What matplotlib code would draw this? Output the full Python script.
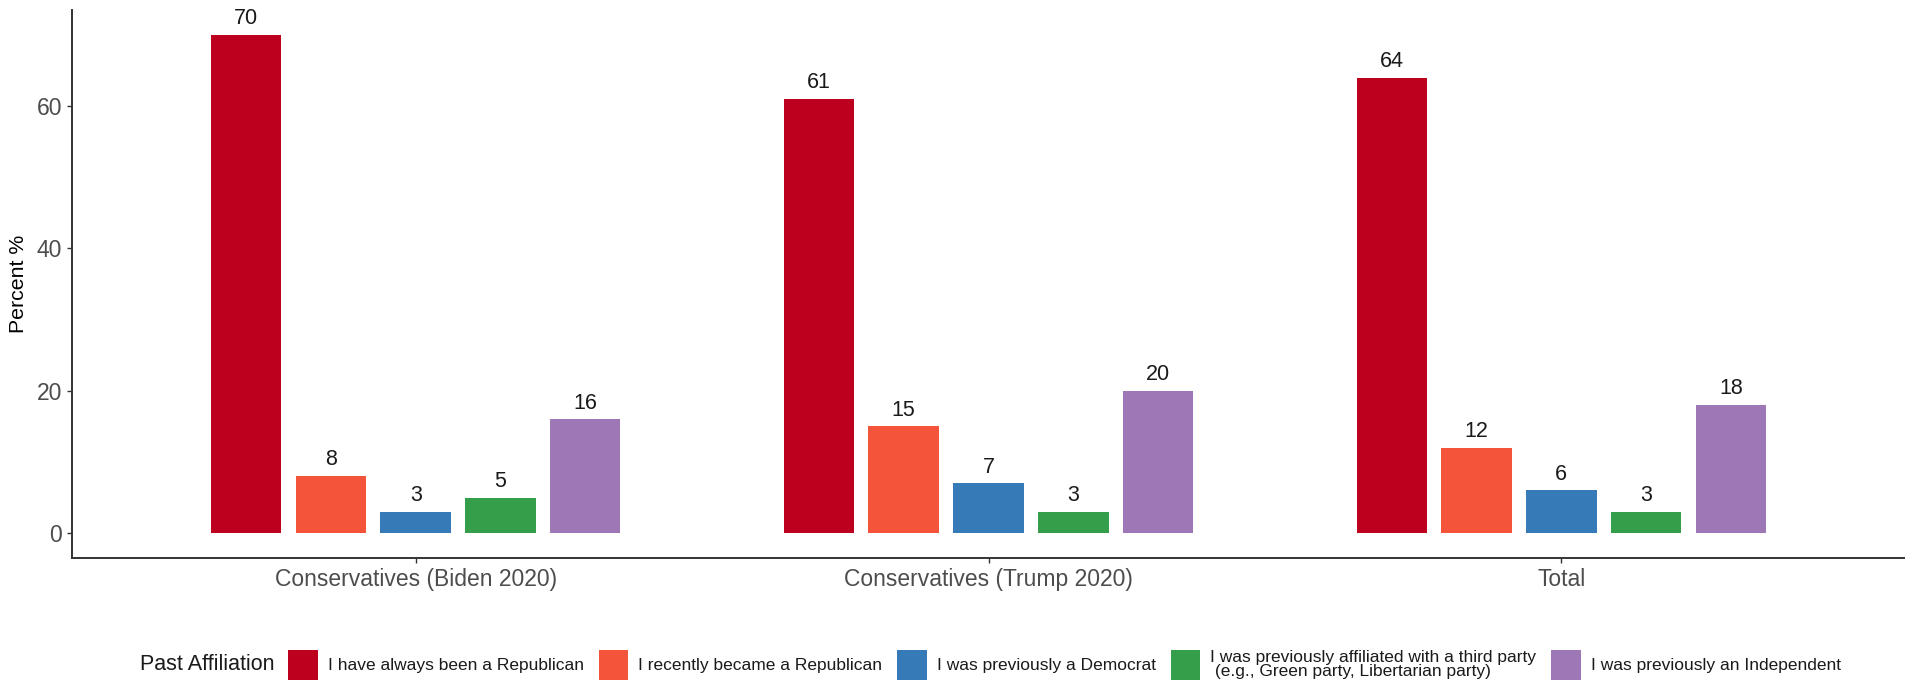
import numpy as np
import matplotlib
matplotlib.use("Agg")
import matplotlib.pyplot as plt
from matplotlib.patches import Patch

plt.rcParams['font.family'] = ['Liberation Sans', 'DejaVu Sans']

# data
groups = ["Conservatives (Biden 2020)", "Conservatives (Trump 2020)", "Total"]
affiliations = [
    "I have always been a Republican",
    "I recently became a Republican",
    "I was previously a Democrat",
    "I was previously affiliated with a third party\n (e.g., Green party, Libertarian party)",
    "I was previously an Independent",
]
always_rep = [70, 61, 64]
recent_rep = [8, 15, 12]
prev_dem = [3, 7, 6]
third_party = [5, 3, 3]
prev_ind = [16, 20, 18]
series = [always_rep, recent_rep, prev_dem, third_party, prev_ind]
colors = ["#BC001E", "#F4553A", "#377AB8", "#349E4A", "#9E78B6"]

fig = plt.figure(figsize=(19.05, 6.85), dpi=100)
ax = fig.add_axes([72 / 1905, 1 - 558 / 685, 1 - 72 / 1905, 548 / 685])

x = np.arange(1, len(groups) + 1)
pitch = 0.148
bw = 0.123
for i, (vals, col) in enumerate(zip(series, colors)):
    pos = x + (i - 2) * pitch
    ax.bar(pos, vals, width=bw, color=col, edgecolor="none")
    for p, v in zip(pos, vals):
        ax.text(p, v + 0.8, str(v), ha="center", va="bottom", fontsize=15.5, color="#1a1a1a")

ax.set_xlim(0.4, 3.6)
ax.set_ylim(-3.5, 73.5)
ax.set_yticks([0, 20, 40, 60])
ax.set_xticks(x)
ax.set_xticklabels(groups)
ax.tick_params(axis="both", labelsize=16.5, labelcolor="#4D4D4D", color="#333333",
               length=3.6, width=1.0, pad=3.5)
ax.set_ylabel("Percent %", fontsize=15.3, color="black", labelpad=6)
for s in ["top", "right"]:
    ax.spines[s].set_visible(False)
for s in ["left", "bottom"]:
    ax.spines[s].set_color("#333333")
    ax.spines[s].set_linewidth(1.4)

# legend along the bottom
handles = [Patch(facecolor=c, edgecolor="none") for c in colors]
leg = fig.legend(handles, affiliations, loc="center left",
                 bbox_to_anchor=(288 / 1905, 1 - 665 / 685), ncol=5, frameon=False,
                 fontsize=12.5, handlelength=1.72, handleheight=2.3,
                 handletextpad=0.57, columnspacing=0.85, borderpad=0, borderaxespad=0)
for t in leg.get_texts():
    t.set_linespacing(0.95)
    t.set_color("#1a1a1a")
fig.text(140 / 1905, 1 - 665 / 685, "Past Affiliation", fontsize=15.5, va="center",
         ha="left", color="#1a1a1a")

fig.savefig("out.png", dpi=100)
